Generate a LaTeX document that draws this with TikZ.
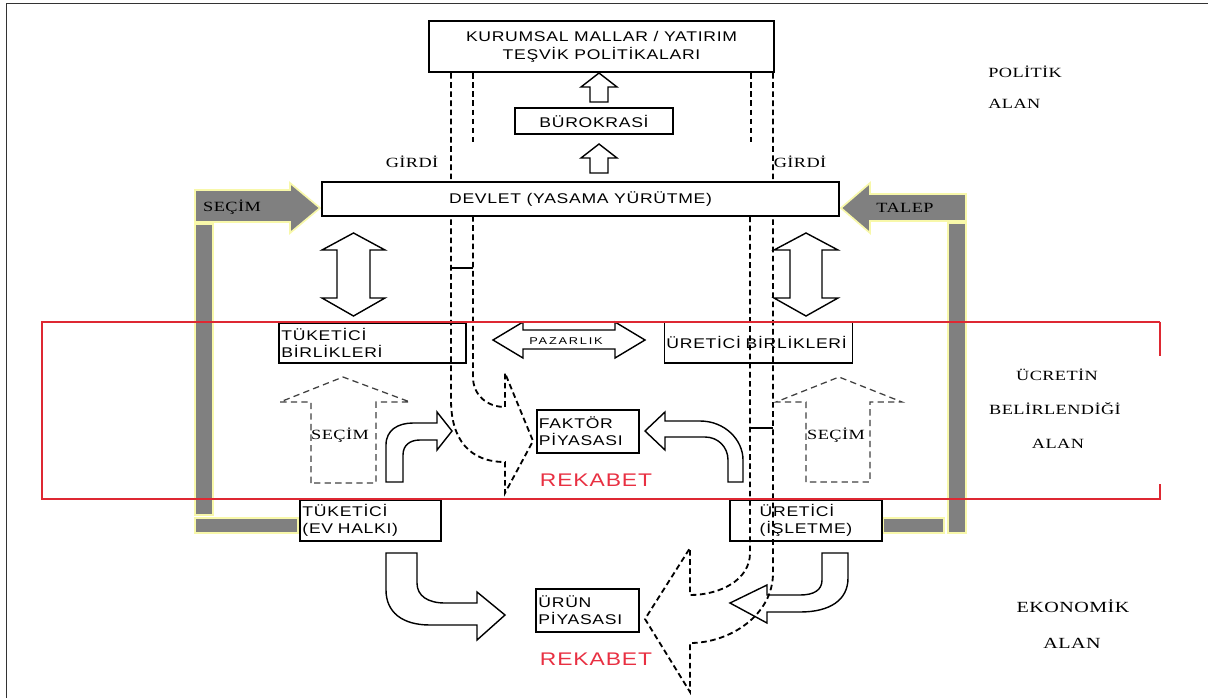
\documentclass[tikz,border=0pt]{standalone}
\usepackage{fontspec}
\setmainfont{Liberation Serif}[FakeStretch=1.3,LetterSpace=3]
\newfontfamily\boxfont{Liberation Sans}[FakeStretch=1.25,LetterSpace=5]
\newfontfamily\tinyfont{Liberation Sans}[FakeStretch=1.3,LetterSpace=18]

\definecolor{barGray}{RGB}{128,128,128}
\definecolor{barEdge}{RGB}{248,248,170}
\definecolor{zoneRed}{RGB}{222,40,50}
\definecolor{rivalRed}{RGB}{232,48,66}

\tikzset{
  bar/.style={fill=barGray,draw=barEdge,line width=1.2pt},
  pipe/.style={line width=1.3pt,dash pattern=on 4pt off 2.5pt},
  choice/.style={draw=black!75,line width=0.9pt,dash pattern=on 4.5pt off 3pt},
  hollow/.style={draw,line width=1pt},
  box/.style={draw,line width=1.2pt,inner sep=1.5pt,font=\boxfont\fontsize{10}{12}\selectfont},
  area/.style={font=\fontsize{10}{12}\selectfont,inner sep=0pt}
}

\begin{document}
\begin{tikzpicture}[x=0.025cm,y=-0.025cm]
\useasboundingbox (0,0) rectangle (1208,698);
\draw[line width=0.7pt,black!80] (6,698) -- (6,3) -- (1208,3);

\begin{scope}
    \path[bar] (195,190) -- (290,190) -- (290,183) -- (320,208) -- (290,233) -- (290,222) -- (195,222) -- cycle;
    \path[bar] (195,224) rectangle (213,515);
    \path[bar] (195,518) rectangle (298,533);
    \path[bar] (966,194) -- (870,194) -- (870,183) -- (841,208) -- (870,233) -- (870,221) -- (966,221) -- cycle;
    \path[bar] (948,223) rectangle (966,533);
    \path[bar] (883,518) rectangle (944,533);
\end{scope}

\begin{scope}
    \draw[pipe] (451,73) -- (451,400) .. controls (451,440) and (470,462) .. (505,462)
        -- (505,493) -- (533,441) -- (505,373) -- (505,407)
        .. controls (487,407) and (473,395) .. (473,377) -- (473,216);
    \draw[pipe] (473,73) -- (473,142);
    \draw[line width=0.8pt] (451,268) -- (473,268);
    \draw[pipe] (773,73) -- (773,573) .. controls (773,615) and (730,643) .. (690,643)
        -- (690,692) -- (645,619) -- (690,548) -- (690,595)
        .. controls (720,595) and (750,580) .. (750,553) -- (750,216);
    \draw[pipe] (751,73) -- (751,142);
    \draw[line width=0.8pt] (750,428) -- (773,428);
    \draw[choice] (311,483) -- (311,402) -- (280,402) -- (343,377) -- (410,402) -- (376,402) -- (376,483) -- cycle;
    \draw[choice] (806,482) -- (806,402) -- (776,402) -- (839,377) -- (902,402) -- (870,402) -- (870,482) -- cycle;
\end{scope}

\begin{scope}[every node/.style={box}]
    \node[fill=white,minimum width=8.63cm,minimum height=1.28cm,align=center,
          font=\boxfont\fontsize{10}{12.8}\selectfont] (kurum) at (601.5,46.5)
          {KURUMSAL MALLAR / YATIRIM\\TEŞVİK POLİTİKALARI};
    \node[fill=white,minimum width=3.95cm,minimum height=0.65cm] (buro) at (594,121) {BÜROKRASİ};
    \node[fill=white,minimum width=12.93cm,minimum height=0.85cm] (devlet) at (580.5,199) {DEVLET (YASAMA YÜRÜTME)};
    \node[minimum width=4.68cm,minimum height=1cm,text width=4.55cm,align=left] (tbirlik) at (372.5,343) {TÜKETİCİ\\BİRLİKLERİ};
    \node[minimum width=4.68cm,minimum height=1.03cm,text width=4.6cm,align=left] (ubirlik) at (758.5,342.5) {ÜRETİCİ BİRLİKLERİ};
    \node[minimum width=2.55cm,minimum height=1.08cm,text width=2.45cm,align=left] (faktor) at (588,431.5) {FAKTÖR\\PİYASASI};
    \node[minimum width=3.53cm,minimum height=1.03cm,text width=3.4cm,align=left] (tuketici) at (370.5,520.5) {TÜKETİCİ\\(EV HALKI)};
    \node[minimum width=3.8cm,minimum height=1.03cm,align=left] (uretici) at (806,520.5) {ÜRETİCİ\\(İŞLETME)};
    \node[minimum width=2.58cm,minimum height=1.08cm,text width=2.45cm,align=left] (urun) at (587.5,610.5) {ÜRÜN\\PİYASASI};
\end{scope}

\begin{scope}[every path/.style={hollow}]
    \path (590,102) -- (590,87) -- (581,87) -- (599,73) -- (617,87) -- (608,87) -- (608,102) -- cycle;
    \path (590,173) -- (590,158) -- (581,158) -- (599,144) -- (617,158) -- (608,158) -- (608,173) -- cycle;
    \path (337,250) -- (322,250) -- (353.5,233) -- (385,250) -- (370,250) -- (370,298) -- (385,298)
        -- (353.5,316) -- (322,298) -- (337,298) -- cycle;
    \path (790,250) -- (774,250) -- (806,233) -- (838,250) -- (822,250) -- (822,298) -- (838,298)
        -- (806,316) -- (774,298) -- (790,298) -- cycle;
    \path (493,340) -- (523,322) -- (523,330) -- (615,330) -- (615,322) -- (645,340) -- (615,358)
        -- (615,349) -- (523,349) -- (523,358) -- cycle;
    \path (386,482) -- (386,445) .. controls (386,430) and (398,423) .. (413,423) -- (437,423) -- (437,412)
        -- (452,431) -- (437,450) -- (437,440) -- (420,440) .. controls (410,440) and (403,445) .. (403,455)
        -- (403,482) -- cycle;
    \path (645,431) -- (665,412) -- (665,421) -- (700,421) .. controls (725,421) and (743,440) .. (743,460)
        -- (743,482) -- (728,482) -- (728,460) .. controls (728,447) and (718,437) .. (705,437)
        -- (665,437) -- (665,450) -- cycle;
    \path (386,553) -- (386,590) .. controls (386,612) and (402,625) .. (430,625) -- (477,625) -- (477,640)
        -- (505,615) -- (477,592) -- (477,603) -- (445,603) .. controls (428,603) and (417,596) .. (417,583)
        -- (417,553) -- cycle;
    \path (822,553) -- (822,580) .. controls (822,590) and (814,595) .. (800,595) -- (767,595) -- (767,585)
        -- (730,603) -- (767,623) -- (767,612) -- (800,612) .. controls (830,612) and (848,600) .. (848,578)
        -- (848,553) -- cycle;
\end{scope}

\draw[zoneRed,line width=1pt] (1160,322) -- (42,322) -- (42,499) -- (1160,499);
\draw[zoneRed,line width=1.6pt] (42,322) -- (42,499) (1160,321.5) -- (1160,356) (1160,499.5) -- (1160,484);

\begin{scope}[every node/.style={area}]
    \node (secimbar) at (232,207) {SEÇİM};
    \node (talep) at (905,208) {TALEP};
    \node (girdiL) at (412,162) {GİRDİ};
    \node (girdiR) at (800,162) {GİRDİ};
    \node (secimL) at (340,435) {SEÇİM};
    \node (secimR) at (836,435) {SEÇİM};
    \node[anchor=west] (politik) at (988,72) {POLİTİK};
    \node[anchor=west] (polalan) at (988,104) {ALAN};
    \node (ucret) at (1057,375) {ÜCRETİN};
    \node (belir) at (1055,409) {BELİRLENDİĞİ};
    \node (ucalan) at (1058,444) {ALAN};
    \node[font=\fontsize{11}{13}\selectfont] (ekonomik) at (1073,606) {EKONOMİK};
    \node[font=\fontsize{11}{13}\selectfont] (ekalan) at (1072,643) {ALAN};
    \node[font=\tinyfont\fontsize{7}{8}\selectfont] (pazar) at (566,341) {PAZARLIK};
    \node[font=\boxfont\fontsize{13}{15}\selectfont,text=rivalRed] (rekabet1) at (596,480) {REKABET};
    \node[font=\boxfont\fontsize{13}{15}\selectfont,text=rivalRed] (rekabet2) at (596,659) {REKABET};
\end{scope}
\end{tikzpicture}
\end{document}
